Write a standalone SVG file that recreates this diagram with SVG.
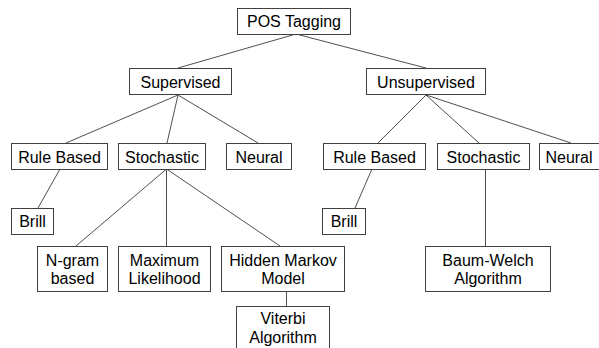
<svg xmlns="http://www.w3.org/2000/svg" width="599" height="348" viewBox="0 0 599 348">
<style>
.b{fill:#fff;stroke:#404040;stroke-width:1}
.t{font-family:"Liberation Sans",Arial,sans-serif;font-size:16px;fill:#000;text-anchor:middle}
.c line{stroke:#505050;stroke-width:1}
</style>
<rect width="599" height="348" fill="#fff"/>
<g class="c" id="connectors">
<line x1="296" y1="34" x2="178" y2="68"/>
<line x1="296" y1="34" x2="426" y2="68"/>
<line x1="178" y1="95" x2="66" y2="143"/>
<line x1="178" y1="95" x2="167" y2="143"/>
<line x1="178" y1="95" x2="258" y2="143"/>
<line x1="426" y1="95" x2="378" y2="143"/>
<line x1="426" y1="95" x2="479" y2="143"/>
<line x1="426" y1="95" x2="571" y2="143"/>
<line x1="60" y1="169" x2="38" y2="208"/>
<line x1="372" y1="169" x2="355" y2="208"/>
<line x1="166.5" y1="169" x2="76" y2="246"/>
<line x1="166.5" y1="169" x2="166.5" y2="246"/>
<line x1="166.5" y1="169" x2="280" y2="246"/>
<line x1="485.5" y1="169" x2="485.5" y2="246"/>
<line x1="286.5" y1="291" x2="286.5" y2="306"/>
</g>
<g id="pos"><rect class="b" x="237.5" y="8.5" width="113" height="26"/><text class="t" x="294" y="27">POS Tagging</text></g>
<g id="sup"><rect class="b" x="129.5" y="68.5" width="102" height="26"/><text class="t" x="180.5" y="87.5">Supervised</text></g>
<g id="unsup"><rect class="b" x="366.5" y="68.5" width="119" height="26"/><text class="t" x="426" y="87.5">Unsupervised</text></g>
<g id="rbL"><rect class="b" x="11.5" y="143.5" width="96" height="26"/><text class="t" x="59.5" y="162.5">Rule Based</text></g>
<g id="stL"><rect class="b" x="118.5" y="143.5" width="87" height="26"/><text class="t" x="162" y="162.5">Stochastic</text></g>
<g id="nL"><rect class="b" x="226.5" y="143.5" width="65" height="26"/><text class="t" x="259" y="162.5">Neural</text></g>
<g id="rbR"><rect class="b" x="323.5" y="143.5" width="102" height="26"/><text class="t" x="374.5" y="162.5">Rule Based</text></g>
<g id="stR"><rect class="b" x="437.5" y="143.5" width="92" height="26"/><text class="t" x="483.5" y="162.5">Stochastic</text></g>
<g id="nR"><rect class="b" x="539.5" y="143.5" width="70" height="26"/><text class="t" x="569" y="162.5">Neural</text></g>
<g id="brL"><rect class="b" x="11.5" y="208.5" width="42" height="26"/><text class="t" x="32.5" y="227">Brill</text></g>
<g id="brR"><rect class="b" x="322.5" y="208.5" width="43" height="26"/><text class="t" x="344" y="227">Brill</text></g>
<g id="ngram"><rect class="b" x="37.5" y="246.5" width="70" height="45"/><text class="t" x="72.5" y="265.5">N-gram</text><text class="t" x="72.5" y="284">based</text></g>
<g id="maxl"><rect class="b" x="118.5" y="246.5" width="92" height="45"/><text class="t" x="164.5" y="265.5">Maximum</text><text class="t" x="164.5" y="284">Likelihood</text></g>
<g id="hmm"><rect class="b" x="221.5" y="246.5" width="123" height="45"/><text class="t" x="283" y="265.5">Hidden Markov</text><text class="t" x="283" y="284">Model</text></g>
<g id="bw"><rect class="b" x="425.5" y="246.5" width="125" height="45"/><text class="t" x="488" y="265.5">Baum-Welch</text><text class="t" x="488" y="284">Algorithm</text></g>
<g id="vit"><rect class="b" x="236.5" y="306.5" width="93" height="50"/><text class="t" x="283" y="324">Viterbi</text><text class="t" x="283" y="342.5">Algorithm</text></g>
</svg>
